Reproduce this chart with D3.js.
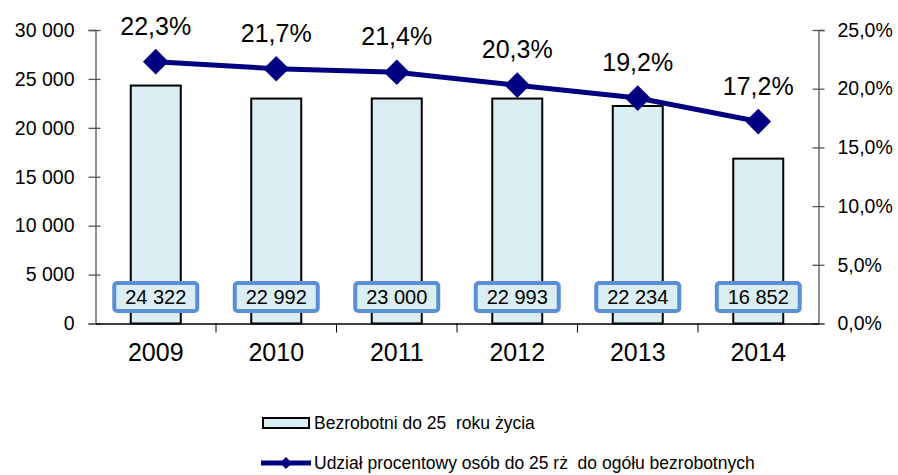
<!DOCTYPE html><meta charset="utf-8">
<html>
<head>
<title>Bezrobotni do 25 roku zycia</title>
<script src="https://cdn.jsdelivr.net/npm/d3@7/dist/d3.min.js"></script>
<style>
  body { margin: 0; background: #fff; }
  text { font-family: "Liberation Sans", Arial, sans-serif; fill: #000; white-space: pre; }
</style>
</head>
<body>
<svg id="viz"></svg>
<script>
// data
var years = ["2009", "2010", "2011", "2012", "2013", "2014"];
var unemployed = [24322, 22992, 23000, 22993, 22234, 16852];
var share = [22.3, 21.7, 21.4, 20.3, 19.2, 17.2];
var leftTicks = [0, 5000, 10000, 15000, 20000, 25000, 30000];
var rightTicks = [0, 5, 10, 15, 20, 25];
var legendLabels = ["Bezrobotni do 25  roku życia", "Udział procentowy osób do 25 rż  do ogółu bezrobotnych"];

var width = 898, height = 475;
// plot area (note: "top" is reserved on window, so use other names)
var plotLeft = 95.5, plotRight = 818.5, plotTop = 30, plotBottom = 323.5;

var svg = d3.select("#viz").attr("width", width).attr("height", height);

var x = d3.scaleBand().domain(years).range([plotLeft, plotRight]);
var yL = d3.scaleLinear().domain([0, 30000]).range([plotBottom, plotTop]);
var yR = d3.scaleLinear().domain([0, 25]).range([plotBottom, plotTop]);

var fmtThousands = function(v) {
    return d3.format(",")(v).replace(/,/g, " ");
};
var fmtPct = function(v) { return d3.format(".1f")(v).replace(".", ",") + "%"; };

// bars
var barW = 50;
svg.append("g").selectAll("rect")
    .data(unemployed)
    .enter().append("rect")
    .attr("x", function(d, i) { return x(years[i]) + x.bandwidth() / 2 - barW / 2; })
    .attr("y", function(d) { return yL(d); })
    .attr("width", barW)
    .attr("height", function(d) { return plotBottom - yL(d); })
    .attr("fill", "#daedf3")
    .attr("stroke", "#000")
    .attr("stroke-width", 2);

// left axis
var axL = svg.append("g").attr("transform", "translate(" + plotLeft + ",0)")
    .call(d3.axisLeft(yL).tickValues(leftTicks).tickFormat(fmtThousands).tickSize(7).tickPadding(14));
axL.selectAll(".tick line").attr("x2", 5).attr("x1", -7);
axL.selectAll("text").style("font-size", "19.5px");

// right axis
var axR = svg.append("g").attr("transform", "translate(" + plotRight + ",0)")
    .call(d3.axisRight(yR).tickValues(rightTicks).tickFormat(fmtPct).tickSize(6).tickPadding(13));
axR.selectAll(".tick line").attr("x1", -6);
axR.selectAll("text").style("font-size", "19.5px");

// bottom axis
var axB = svg.append("g").attr("transform", "translate(0," + plotBottom + ")")
    .call(d3.axisBottom(x).tickSize(0).tickPadding(20));
axB.selectAll("text").style("font-size", "25px");
axB.append("g").selectAll("line")
    .data(years.slice(1))
    .enter().append("line")
    .attr("x1", function(d) { return x(d); })
    .attr("x2", function(d) { return x(d); })
    .attr("y1", 0).attr("y2", 9)
    .attr("stroke", "#000");

svg.selectAll(".domain").attr("stroke", "#555").attr("stroke-width", 1.3);
svg.selectAll(".tick line").attr("stroke", "#555").attr("stroke-width", 1.3);
axB.select(".domain").attr("stroke", "#000");

// value boxes
var boxes = svg.append("g").selectAll("g")
    .data(unemployed)
    .enter().append("g")
    .attr("transform", function(d, i) { return "translate(" + (x(years[i]) + x.bandwidth() / 2) + ",297)"; });
boxes.append("rect")
    .attr("x", -41.5).attr("y", -14)
    .attr("width", 83).attr("height", 28)
    .attr("rx", 3)
    .attr("fill", "#daedf3")
    .attr("stroke", "#5a8ed6")
    .attr("stroke-width", 4);
boxes.append("text")
    .attr("text-anchor", "middle")
    .attr("dy", "0.36em")
    .style("font-size", "20px")
    .text(fmtThousands);

// line
var cx = function(i) { return x(years[i]) + x.bandwidth() / 2; };
var line = d3.line()
    .x(function(d, i) { return cx(i); })
    .y(function(d) { return yR(d); });

svg.append("path")
    .datum(share)
    .attr("d", line)
    .attr("fill", "none")
    .attr("stroke", "#000080")
    .attr("stroke-width", 5);

var diamond = d3.symbol().type(d3.symbolDiamond2).size(420);
svg.append("g").selectAll("path")
    .data(share)
    .enter().append("path")
    .attr("d", diamond)
    .attr("transform", function(d, i) { return "translate(" + cx(i) + "," + yR(d) + ")"; })
    .attr("fill", "#000080");

svg.append("g").selectAll("text")
    .data(share)
    .enter().append("text")
    .attr("x", function(d, i) { return cx(i); })
    .attr("y", function(d) { return yR(d) - 27; })
    .attr("text-anchor", "middle")
    .style("font-size", "25px")
    .text(fmtPct);

// legend
var leg = svg.append("g");
leg.append("rect")
    .attr("x", 263).attr("y", 418)
    .attr("width", 46).attr("height", 10)
    .attr("fill", "#daedf3").attr("stroke", "#000").attr("stroke-width", 2);
leg.append("text").attr("x", 314).attr("y", 423).attr("dy", "0.36em")
    .style("font-size", "17.5px").text(legendLabels[0]);
leg.append("line")
    .attr("x1", 261).attr("x2", 311).attr("y1", 463).attr("y2", 463)
    .attr("stroke", "#000080").attr("stroke-width", 5);
leg.append("path")
    .attr("d", d3.symbol().type(d3.symbolDiamond2).size(90))
    .attr("transform", "translate(286,463)")
    .attr("fill", "#000080");
leg.append("text").attr("x", 314).attr("y", 463).attr("dy", "0.36em")
    .style("font-size", "17.5px").text(legendLabels[1]);
</script>
</body>
</html>
